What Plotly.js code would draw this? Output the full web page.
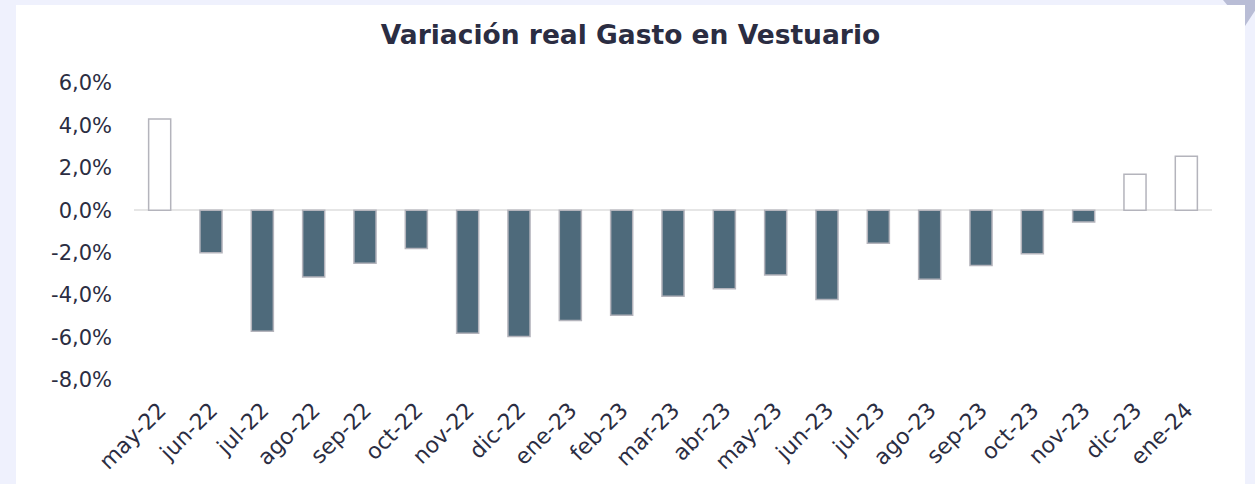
<!DOCTYPE html>
<html>
<head>
<meta charset="utf-8">
<script src="https://cdn.plot.ly/plotly-3.0.1.min.js"></script>
<style>
  html, body { margin: 0; padding: 0; width: 1255px; height: 484px; background: #eff1fd; overflow: hidden; }
  #chart { position: absolute; left: 16px; top: 5px; width: 1229px; height: 479px; background: #ffffff; }
  #corner { position: absolute; left: 0; top: 0; }
</style>
</head>
<body>
<svg id="corner" width="1255" height="484"><polygon points="1223,0 1262,0 1245,26" fill="#b9bdd6"/></svg>
<div id="chart"></div>
<script>
const months = ["may-22","jun-22","jul-22","ago-22","sep-22","oct-22","nov-22","dic-22","ene-23","feb-23","mar-23","abr-23","may-23","jun-23","jul-23","ago-23","sep-23","oct-23","nov-23","dic-23","ene-24"];
const variacion = [4.3,-2.0,-5.7,-3.15,-2.5,-1.8,-5.8,-5.95,-5.2,-4.95,-4.05,-3.7,-3.05,-4.2,-1.55,-3.25,-2.6,-2.05,-0.55,1.7,2.55];
const yTicks = [-8,-6,-4,-2,0,2,4,6];
const yTickLabels = ["-8,0%","-6,0%","-4,0%","-2,0%","0,0%","2,0%","4,0%","6,0%"];

const colorNeg = "#4e6a7b";
const colorPos = "#ffffff";
const barColors = variacion.map(v => v < 0 ? colorNeg : colorPos);

const trace = {
  type: "bar",
  x: months,
  y: variacion,
  marker: { color: barColors, line: { color: "#b4b4bc", width: 1.5 } },
  hoverinfo: "x+y"
};

const fontFam = "'DejaVu Sans', sans-serif";
const layout = {
  width: 1229, height: 479,
  paper_bgcolor: "#ffffff",
  plot_bgcolor: "#ffffff",
  separators: ",.",
  margin: { l: 118, r: 33, t: 78, b: 104 },
  bargap: 0.57,
  showlegend: false,
  title: {
    text: "<b>Variación real Gasto en Vestuario</b>",
    x: 0.5, xref: "container", xanchor: "center",
    y: 39, yref: "container",
    font: { family: fontFam, size: 26.5, color: "#2b2d42" }
  },
  xaxis: {
    type: "category",
    tickangle: -45,
    showgrid: false,
    showline: false,
    ticks: "",
    ticklabelstandoff: 12,
    tickfont: { family: fontFam, size: 22, color: "#2b2d42" }
  },
  yaxis: {
    range: [-8, 6],
    tickvals: yTicks,
    ticktext: yTickLabels,
    showgrid: false,
    zeroline: true,
    zerolinecolor: "#e6e6e6",
    zerolinewidth: 2,
    showline: false,
    ticklabelstandoff: 21,
    tickfont: { family: fontFam, size: 21, color: "#2b2d42" }
  }
};

Plotly.newPlot("chart", [trace], layout, { displayModeBar: false, staticPlot: true });
</script>
</body>
</html>
